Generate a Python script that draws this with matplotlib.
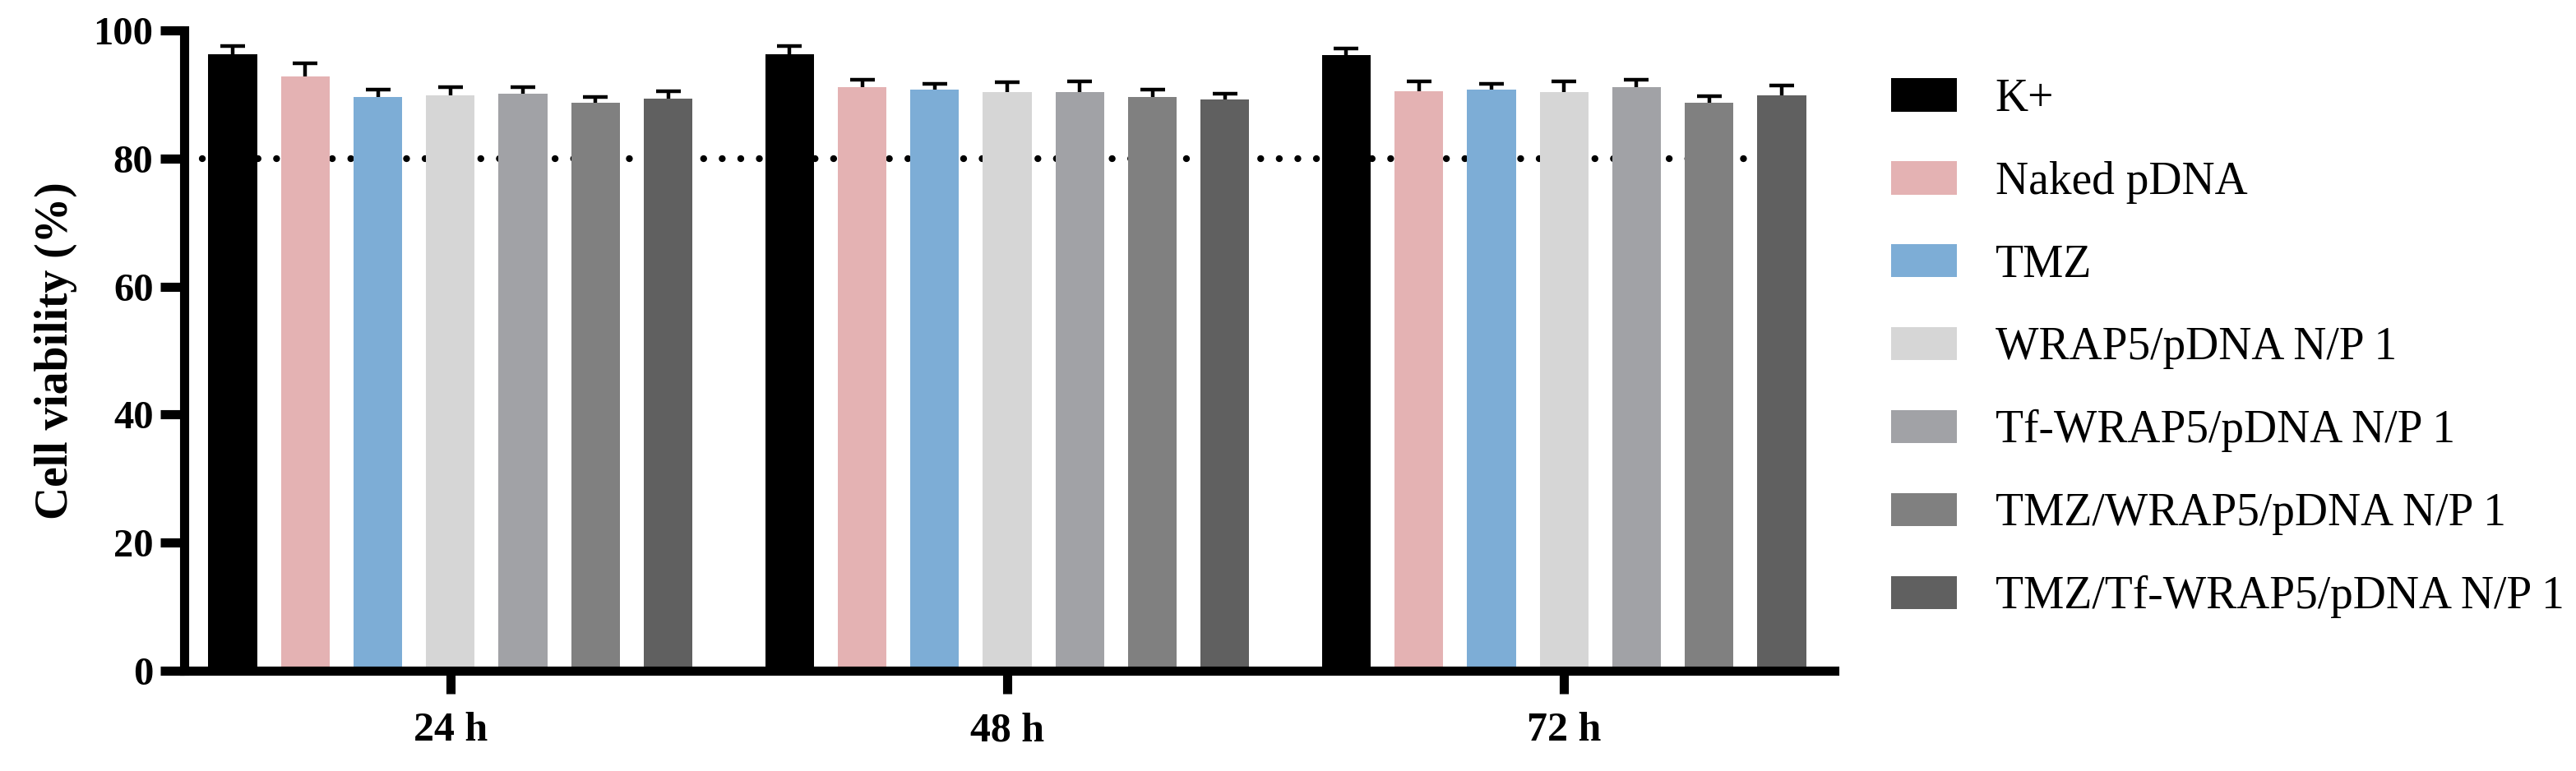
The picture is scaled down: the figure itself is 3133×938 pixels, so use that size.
import numpy as np
import matplotlib
matplotlib.use("Agg")
import matplotlib.pyplot as plt

plt.rcParams['font.family'] = ['Liberation Serif', 'DejaVu Serif']

groups = ['24 h', '48 h', '72 h']
series = ['K+', 'Naked pDNA', 'TMZ', 'WRAP5/pDNA N/P 1', 'Tf-WRAP5/pDNA N/P 1',
          'TMZ/WRAP5/pDNA N/P 1', 'TMZ/Tf-WRAP5/pDNA N/P 1']
colors = ['#000000', '#E4B2B3', '#7DADD6', '#D6D6D6', '#A1A2A6', '#808080', '#606060']

# mean viability per series, one value per time point (24, 48, 72 h)
means = [
    [96.3, 96.3, 96.1],
    [92.8, 91.1, 90.5],
    [89.6, 90.8, 90.8],
    [89.9, 90.4, 90.4],
    [90.1, 90.4, 91.1],
    [88.7, 89.6, 88.7],
    [89.3, 89.2, 89.9],
]
errs = [
    [1.3, 1.3, 1.1],
    [2.0, 1.2, 1.6],
    [1.1, 0.9, 0.9],
    [1.3, 1.5, 1.7],
    [1.1, 1.7, 1.2],
    [0.9, 1.2, 1.0],
    [1.2, 0.9, 1.5],
]
threshold = 80

group_step = 7.674
bar_w = 0.67

fig = plt.figure(figsize=(31.33, 9.38), dpi=100)
ax = fig.add_axes([0.0715, 0.130, 0.6405, 0.8306])

gx = np.arange(len(groups)) * group_step
for i, name in enumerate(series):
    x = gx + i
    ax.bar(x, means[i], width=bar_w, color=colors[i], label=name, zorder=2)
    _, caps, _ = ax.errorbar(x, means[i], yerr=[np.zeros(len(groups)), errs[i]],
                             fmt='none', ecolor='black', elinewidth=3.2,
                             capsize=11, capthick=3.2, zorder=3)
    caps[0].set_visible(False)  # only the upper cap, like the original

ax.plot([-0.42, gx[-1] + 6.42], [threshold, threshold], color='black', lw=6,
        linestyle=(0, (0.01, 2.7)), dash_capstyle='round', zorder=1)

ax.set_xlim(-0.669, 22.07)
ax.set_ylim(0, 100)
ax.set_yticks([0, 20, 40, 60, 80, 100])
ax.set_xticks(gx + 3)
ax.set_xticklabels(groups)

for s in ['top', 'right']:
    ax.spines[s].set_visible(False)
for s in ['left', 'bottom']:
    ax.spines[s].set_linewidth(8)
    ax.spines[s].set_capstyle('projecting')

ax.tick_params(axis='y', length=21, width=8, pad=6, labelsize=35)
ax.tick_params(axis='x', length=20, width=8, pad=16, labelsize=36)
for lab in ax.get_xticklabels() + ax.get_yticklabels():
    lab.set_fontweight('bold')

ax.set_ylabel('Cell viability (%)', fontsize=40, fontweight='bold', labelpad=14)

fig.legend(loc='upper left', bbox_to_anchor=(0.734, 0.899), frameon=False,
           fontsize=40, borderpad=0, borderaxespad=0, handlelength=1.45,
           handleheight=0.75, handletextpad=0.84, labelspacing=0.88)

fig.savefig('out.png', dpi=100)
